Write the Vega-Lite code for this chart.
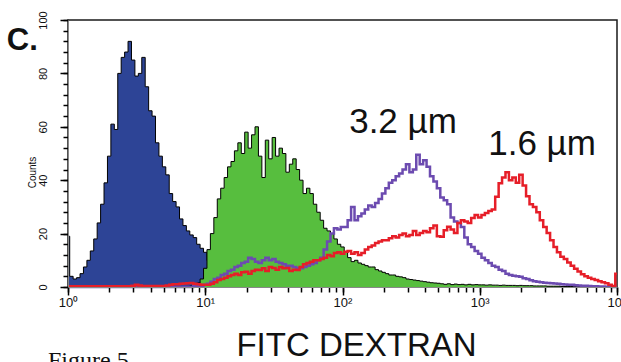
{
  "$schema": "https://vega.github.io/schema/vega-lite/v6.json",
  "width": 549,
  "height": 267,
  "autosize": {"type": "none"},
  "padding": {"left": 68, "top": 20, "right": 4, "bottom": 75},
  "background": "white",
  "config": {"view": {"stroke": "#1a1a1a", "strokeWidth": 1.5}, "font": "Liberation Sans"},
  "resolve": {"axis": {"x": "independent", "y": "independent"}},
  "datasets": {
    "hist": [
      {"x":1,"b":19,"g":0,"p":0,"r":0.3},{"x":1.059,"b":4,"g":0,"p":0,"r":0.3},{"x":1.122,"b":3,"g":0,"p":0,"r":0.3},{"x":1.189,"b":3.5,"g":0,"p":0,"r":0.3},{"x":1.259,"b":5,"g":0,"p":0,"r":0.3},{"x":1.334,"b":7.5,"g":0,"p":0,"r":0.3},{"x":1.413,"b":10,"g":0,"p":0,"r":0.3},{"x":1.496,"b":13.5,"g":0,"p":0,"r":0.3},{"x":1.585,"b":18,"g":0,"p":0,"r":0.3},{"x":1.679,"b":24,"g":0,"p":0,"r":0.3},
      {"x":1.778,"b":31,"g":0,"p":0,"r":0.3},{"x":1.884,"b":39,"g":0,"p":0,"r":0.3},{"x":1.995,"b":49,"g":0,"p":0,"r":0.3},{"x":2.113,"b":61,"g":0,"p":0,"r":0.3},{"x":2.239,"b":59,"g":0,"p":0,"r":0.3},{"x":2.371,"b":80,"g":0,"p":0,"r":0.3},{"x":2.512,"b":86,"g":0,"p":0,"r":0.3},{"x":2.661,"b":88,"g":0,"p":0,"r":0.3},{"x":2.818,"b":92,"g":0,"p":0,"r":0.3},{"x":2.985,"b":85,"g":0,"p":0,"r":0.5},
      {"x":3.162,"b":79,"g":0,"p":0,"r":0.8},{"x":3.35,"b":80,"g":0,"p":0,"r":0.6},{"x":3.548,"b":86,"g":0,"p":0,"r":0.4},{"x":3.758,"b":75,"g":0,"p":0,"r":0.4},{"x":3.981,"b":66,"g":0,"p":0,"r":0.4},{"x":4.217,"b":64,"g":0,"p":0,"r":0.4},{"x":4.467,"b":54,"g":0,"p":0,"r":0.4},{"x":4.732,"b":49,"g":0,"p":0,"r":0.4},{"x":5.012,"b":45,"g":0,"p":0,"r":0.4},{"x":5.309,"b":42,"g":0,"p":0,"r":0.6},
      {"x":5.623,"b":35,"g":0,"p":0,"r":0.8},{"x":5.957,"b":32,"g":0,"p":0,"r":1},{"x":6.31,"b":30,"g":0,"p":0,"r":1},{"x":6.683,"b":25.5,"g":0,"p":0,"r":1.2},{"x":7.079,"b":23,"g":0,"p":0,"r":1.3},{"x":7.499,"b":21,"g":0.2,"p":0,"r":1.4},{"x":7.943,"b":19.5,"g":0.4,"p":0,"r":1.5},{"x":8.414,"b":18.5,"g":0.8,"p":0.3,"r":1.2},{"x":8.913,"b":16,"g":1.5,"p":0.5,"r":1},{"x":9.441,"b":14.5,"g":3,"p":0.5,"r":0.8},
      {"x":10,"b":13,"g":7,"p":0.8,"r":0.8},{"x":10.59,"b":10,"g":14,"p":1.2,"r":0.8},{"x":11.22,"b":7,"g":20,"p":2,"r":1.2},{"x":11.89,"b":4,"g":26,"p":3,"r":1.8},{"x":12.59,"b":2,"g":33,"p":3.5,"r":2.6},{"x":13.34,"b":1,"g":37,"p":4.5,"r":3},{"x":14.13,"b":0.5,"g":41,"p":5,"r":3.5},{"x":14.96,"b":0,"g":45,"p":6,"r":4},{"x":15.85,"b":0,"g":47,"p":6.5,"r":4.5},{"x":16.79,"b":0,"g":51,"p":7.5,"r":5},
      {"x":17.78,"b":0,"g":54,"p":8,"r":4.5},{"x":18.84,"b":0,"g":50,"p":9,"r":5.5},{"x":19.95,"b":0,"g":58,"p":9.5,"r":5.7},{"x":21.13,"b":0,"g":52,"p":11,"r":5},{"x":22.39,"b":0,"g":57,"p":10.5,"r":6},{"x":23.71,"b":0,"g":60,"p":9.5,"r":6.5},{"x":25.12,"b":0,"g":49,"p":9,"r":6.4},{"x":26.61,"b":0,"g":41,"p":10,"r":7},{"x":28.18,"b":0,"g":55,"p":11,"r":6},{"x":29.85,"b":0,"g":48,"p":10,"r":7.5},
      {"x":31.62,"b":0,"g":56,"p":10.5,"r":7.1},{"x":33.5,"b":0,"g":49,"p":9.5,"r":6.5},{"x":35.48,"b":0,"g":52,"p":9,"r":7.5},{"x":37.58,"b":0,"g":50,"p":8.5,"r":7},{"x":39.81,"b":0,"g":43,"p":8,"r":7.1},{"x":42.17,"b":0,"g":46,"p":8,"r":6},{"x":44.67,"b":0,"g":48,"p":7.5,"r":6.5},{"x":47.32,"b":0,"g":44,"p":7,"r":6.4},{"x":50.12,"b":0,"g":40,"p":7,"r":7.5},{"x":53.09,"b":0,"g":35,"p":7.5,"r":8.5},
      {"x":56.23,"b":0,"g":37,"p":8,"r":9},{"x":59.57,"b":0,"g":35,"p":8.5,"r":9.5},{"x":63.1,"b":0,"g":31,"p":9,"r":10},{"x":66.83,"b":0,"g":28,"p":10,"r":10},{"x":70.79,"b":0,"g":25,"p":11,"r":10.5},{"x":74.99,"b":0,"g":22,"p":14,"r":11},{"x":79.43,"b":0,"g":21,"p":17,"r":12},{"x":84.14,"b":0,"g":20,"p":20,"r":11.5},{"x":89.13,"b":0,"g":18,"p":22,"r":12.7},{"x":94.41,"b":0,"g":16,"p":21.5,"r":13},
      {"x":100,"b":0,"g":15,"p":22.5,"r":12.5},{"x":105.9,"b":0,"g":13,"p":22.5,"r":13.2},{"x":112.2,"b":0,"g":11,"p":25,"r":13.5},{"x":118.9,"b":0,"g":9.5,"p":30,"r":12.5},{"x":125.9,"b":0,"g":10,"p":25,"r":13},{"x":133.4,"b":0,"g":9,"p":26.5,"r":12},{"x":141.3,"b":0,"g":8.5,"p":27.5,"r":12.7},{"x":149.6,"b":0,"g":8,"p":29,"r":14},{"x":158.5,"b":0,"g":7.5,"p":30.5,"r":15},{"x":167.9,"b":0,"g":7.5,"p":30,"r":15.5},
      {"x":177.8,"b":0,"g":6.5,"p":31.5,"r":16.5},{"x":188.4,"b":0,"g":6,"p":33,"r":17},{"x":199.5,"b":0,"g":5.5,"p":35,"r":17.5},{"x":211.3,"b":0,"g":5,"p":37,"r":17.5},{"x":223.9,"b":0,"g":4.5,"p":39,"r":18.3},{"x":237.1,"b":0,"g":4.5,"p":40,"r":19},{"x":251.2,"b":0,"g":4,"p":41.5,"r":18.5},{"x":266.1,"b":0,"g":3.8,"p":42.5,"r":19.5},{"x":281.8,"b":0,"g":3.5,"p":44,"r":20},{"x":298.5,"b":0,"g":3,"p":46,"r":19},
      {"x":316.2,"b":0,"g":2.8,"p":43,"r":19.5},{"x":335,"b":0,"g":2.6,"p":44,"r":21},{"x":354.8,"b":0,"g":2.4,"p":49.5,"r":19.5},{"x":375.8,"b":0,"g":2.2,"p":46,"r":20.2},{"x":398.1,"b":0,"g":2,"p":47.5,"r":21},{"x":421.7,"b":0,"g":1.8,"p":45,"r":20.5},{"x":446.7,"b":0,"g":1.6,"p":41.5,"r":22},{"x":473.2,"b":0,"g":1.5,"p":39.5,"r":23},{"x":501.2,"b":0,"g":1.4,"p":37,"r":19},{"x":530.9,"b":0,"g":1.2,"p":33.5,"r":18.8},
      {"x":562.3,"b":0,"g":1,"p":32.5,"r":21.3},{"x":595.7,"b":0,"g":1.2,"p":31,"r":22.6},{"x":631,"b":0,"g":0.9,"p":26,"r":21.5},{"x":668.3,"b":0,"g":1.1,"p":24.5,"r":20.2},{"x":707.9,"b":0,"g":0.9,"p":24,"r":24},{"x":749.9,"b":0,"g":1,"p":22.5,"r":25},{"x":794.3,"b":0,"g":0.8,"p":18.5,"r":24.5},{"x":841.4,"b":0,"g":1,"p":16,"r":24},{"x":891.3,"b":0,"g":0.8,"p":15,"r":25.8},{"x":944.1,"b":0,"g":0.9,"p":13.5,"r":27},
      {"x":1000,"b":0,"g":0.8,"p":12.5,"r":26},{"x":1059,"b":0,"g":0.8,"p":11,"r":27},{"x":1122,"b":0,"g":0.7,"p":10,"r":27.7},{"x":1189,"b":0,"g":0.8,"p":9,"r":28.5},{"x":1259,"b":0,"g":0.7,"p":8,"r":29},{"x":1334,"b":0,"g":0.7,"p":7.5,"r":33.8},{"x":1413,"b":0,"g":0.6,"p":6.5,"r":38.9},{"x":1496,"b":0,"g":0.7,"p":6,"r":41},{"x":1585,"b":0,"g":0.6,"p":5,"r":43},{"x":1679,"b":0,"g":0.6,"p":4.5,"r":40},
      {"x":1778,"b":0,"g":0.6,"p":4.2,"r":41},{"x":1884,"b":0,"g":0.5,"p":4,"r":39},{"x":1995,"b":0,"g":0.6,"p":3.8,"r":42},{"x":2113,"b":0,"g":0.5,"p":3.3,"r":38},{"x":2239,"b":0,"g":0.5,"p":3,"r":34},{"x":2371,"b":0,"g":0.5,"p":2.5,"r":31},{"x":2512,"b":0,"g":0.4,"p":2.2,"r":30},{"x":2661,"b":0,"g":0.4,"p":2,"r":28},{"x":2818,"b":0,"g":0.4,"p":1.8,"r":25},{"x":2985,"b":0,"g":0.4,"p":1.6,"r":22.5},
      {"x":3162,"b":0,"g":0.3,"p":1.5,"r":20.2},{"x":3350,"b":0,"g":0.3,"p":1.4,"r":17.5},{"x":3548,"b":0,"g":0.3,"p":1.3,"r":15},{"x":3758,"b":0,"g":0.3,"p":1.2,"r":13},{"x":3981,"b":0,"g":0.2,"p":1,"r":11.3},{"x":4217,"b":0,"g":0.2,"p":0.9,"r":10.5},{"x":4467,"b":0,"g":0.2,"p":0.8,"r":9.2},{"x":4732,"b":0,"g":0.2,"p":0.8,"r":8},{"x":5012,"b":0,"g":0.1,"p":0.7,"r":6.8},{"x":5309,"b":0,"g":0.1,"p":0.6,"r":5.8},
      {"x":5623,"b":0,"g":0.1,"p":0.5,"r":4.8},{"x":5957,"b":0,"g":0.1,"p":0.5,"r":4},{"x":6310,"b":0,"g":0,"p":0.4,"r":3.5},{"x":6683,"b":0,"g":0,"p":0.3,"r":3},{"x":7079,"b":0,"g":0,"p":0.3,"r":2.6},{"x":7499,"b":0,"g":0,"p":0.2,"r":2.2},{"x":7943,"b":0,"g":0,"p":0.2,"r":1.8},{"x":8414,"b":0,"g":0,"p":0.1,"r":1.4},{"x":8913,"b":0,"g":0,"p":0.1,"r":0.8},{"x":9441,"b":0,"g":0,"p":0,"r":0.4},
      {"x":10000,"b":0,"g":0,"p":0,"r":5}
    ]
  },
  "encoding": {
    "x": {"field": "x", "type": "quantitative", "scale": {"type": "log", "domain": [1, 10000], "nice": false}, "axis": null}
  },
  "layer": [
    {
      "data": {"name": "hist"},
      "mark": {"type": "area", "interpolate": "step", "color": "#2d4496", "opacity": 1, "line": {"color": "#000000", "strokeWidth": 1}},
      "encoding": {"y": {"field": "b", "type": "quantitative", "scale": {"domain": [0, 100], "nice": false}, "axis": null}}
    },
    {
      "data": {"name": "hist"},
      "mark": {"type": "area", "interpolate": "step", "color": "#57be3e", "opacity": 1, "line": {"color": "#000000", "strokeWidth": 1}},
      "encoding": {"y": {"field": "g", "type": "quantitative", "axis": null}}
    },
    {
      "data": {"name": "hist"},
      "mark": {"type": "line", "interpolate": "step", "color": "#6c4bb0", "strokeWidth": 2.5},
      "encoding": {
        "x": {
          "field": "x", "type": "quantitative",
          "scale": {"type": "log", "domain": [1, 10000], "nice": false},
          "axis": {
            "orient": "bottom", "title": null, "labels": false, "zindex": 2, "gridOpacity": 0,
            "values": [1,2,3,4,5,6,7,8,9,10,20,30,40,50,60,70,80,90,100,200,300,400,500,600,700,800,900,1000,2000,3000,4000,5000,6000,7000,8000,9000,10000],
            "tickSize": 5, "tickColor": "black", "tickWidth": 1.5
          }
        },
        "y": {
          "field": "p", "type": "quantitative",
          "scale": {"domain": [0, 100], "nice": false},
          "axis": {
            "orient": "left", "title": null, "labels": false, "zindex": 2, "gridOpacity": 0,
            "values": [0,4,8,12,16,20,24,28,32,36,40,44,48,52,56,60,64,68,72,76,80,84,88,92,96,100],
            "tickSize": 5, "tickColor": "black", "tickWidth": 1.5
          }
        }
      }
    },
    {
      "data": {"name": "hist"},
      "mark": {"type": "line", "interpolate": "step", "color": "#e61e28", "strokeWidth": 2.5},
      "encoding": {
        "x": {
          "field": "x", "type": "quantitative",
          "scale": {"type": "log", "domain": [1, 10000], "nice": false},
          "axis": {
            "orient": "bottom", "title": "FITC DEXTRAN", "zindex": 2, "gridOpacity": 0,
            "values": [1, 10, 100, 1000, 10000],
            "labelExpr": "datum.value == 1 ? '10⁰' : datum.value == 10 ? '10¹' : datum.value == 100 ? '10²' : datum.value == 1000 ? '10³' : '10⁴'",
            "tickSize": 8, "tickColor": "black", "tickWidth": 1.5,
            "labelFontSize": 13, "labelPadding": 1, "labelOverlap": false, "labelFlush": false, "labelColor": "#111",
            "titleFontSize": 33, "titleFontWeight": "normal", "titleColor": "#111",
            "titleX": 288, "titleY": 68, "titleAlign": "center", "titleBaseline": "alphabetic"
          }
        },
        "y": {
          "field": "r", "type": "quantitative",
          "scale": {"domain": [0, 100], "nice": false},
          "axis": {
            "orient": "left", "title": "Counts", "zindex": 2, "gridOpacity": 0,
            "values": [0, 20, 40, 60, 80, 100],
            "tickSize": 8, "tickColor": "black", "tickWidth": 1.5,
            "labelAngle": -90, "labelAlign": "center", "labelBaseline": "bottom", "labelPadding": 12,
            "labelFontSize": 11, "labelOverlap": false, "labelFlush": false, "labelColor": "#111",
            "titleFontSize": 10, "titleFontWeight": "normal", "titleColor": "#111", "titleAngle": -90,
            "titleX": -35.5, "titleY": 152, "titleAlign": "center", "titleBaseline": "middle"
          }
        }
      }
    },
    {
      "data": {"values": [{"x": 276, "y": 57.7, "t": "3.2 µm"}, {"x": 2844, "y": 49.4, "t": "1.6 µm"}]},
      "mark": {"type": "text", "fontSize": 35, "align": "center", "baseline": "alphabetic", "color": "#111"},
      "encoding": {"y": {"field": "y", "type": "quantitative", "axis": null}, "text": {"field": "t"}}
    },
    {
      "data": {"values": [{"x": 0.358, "y": 88.8, "t": "C."}]},
      "mark": {"type": "text", "fontSize": 31, "fontWeight": "bold", "align": "left", "baseline": "alphabetic", "color": "#111"},
      "encoding": {"y": {"field": "y", "type": "quantitative", "axis": null}, "text": {"field": "t"}}
    },
    {
      "data": {"values": [{"x": 0.715, "y": -30.3, "t": "Figure 5"}]},
      "mark": {"type": "text", "font": "Liberation Serif", "fontSize": 24, "align": "left", "baseline": "alphabetic", "color": "#111"},
      "encoding": {"y": {"field": "y", "type": "quantitative", "axis": null}, "text": {"field": "t"}}
    }
  ]
}
